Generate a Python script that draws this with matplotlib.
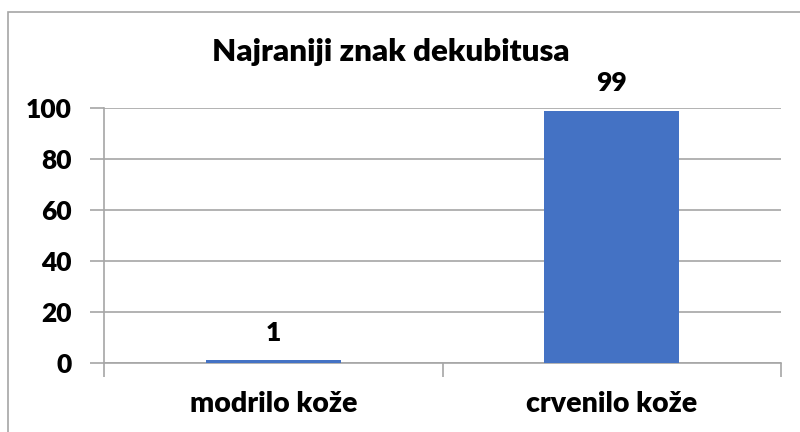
import matplotlib
matplotlib.use("Agg")
import matplotlib.pyplot as plt
from matplotlib.patches import Rectangle

categories = ["modrilo kože", "crvenilo kože"]
values = [1, 99]
yticks = [0, 20, 40, 60, 80, 100]
title = "Najraniji znak dekubitusa"

plt.rcParams['font.family'] = ['Lato', 'DejaVu Sans']
plt.rcParams['font.weight'] = 'heavy'

fig = plt.figure(figsize=(8, 4.32), dpi=100)
ax = fig.add_axes([104/800, 1-363/432, (781-104)/800, (363-108)/432])

grid_c = '#A6A6A6'
x = list(range(len(categories)))
ax.bar(x, values, width=0.4, color='#4472C4', zorder=3)
ax.set_xlim(-0.5, len(categories) - 0.5)
ax.set_ylim(0, 100)
ax.set_yticks(yticks)
ax.set_yticklabels([str(t) for t in yticks], fontsize=19, fontweight='heavy')
ax.yaxis.grid(True, color=grid_c, linewidth=1.2, zorder=0)
ax.tick_params(axis='y', length=10, color=grid_c, width=1.2, pad=13)

ax.set_xticks(x)
ax.set_xticklabels(categories, fontsize=20.5, fontweight='heavy')
ax.tick_params(axis='x', length=0, pad=20)
ax.set_xticks([-0.5, 0.5, 1.5], minor=True)
ax.tick_params(axis='x', which='minor', length=10, color=grid_c, width=1.2)

for s in ['top', 'right']:
    ax.spines[s].set_visible(False)
ax.spines['left'].set_color(grid_c)
ax.spines['bottom'].set_color(grid_c)
ax.spines['left'].set_linewidth(1.2)
ax.spines['bottom'].set_linewidth(1.2)

for xi, v in zip(x, values):
    ax.annotate(str(v), (xi, v), xytext=(0, 11), textcoords='offset points',
                ha='center', va='bottom', fontsize=19, fontweight='heavy')

fig.text(0.5 - 9/800, 1 - 52/432, title, ha='center', va='center',
         fontsize=22.5, fontweight='heavy')

fig.patches.append(Rectangle((8/800, -0.1), 1.2, 1 - 12/432 + 0.1,
                             transform=fig.transFigure, fill=False,
                             edgecolor=grid_c, linewidth=1.2))

fig.savefig('out.png', dpi=100, facecolor='white')
